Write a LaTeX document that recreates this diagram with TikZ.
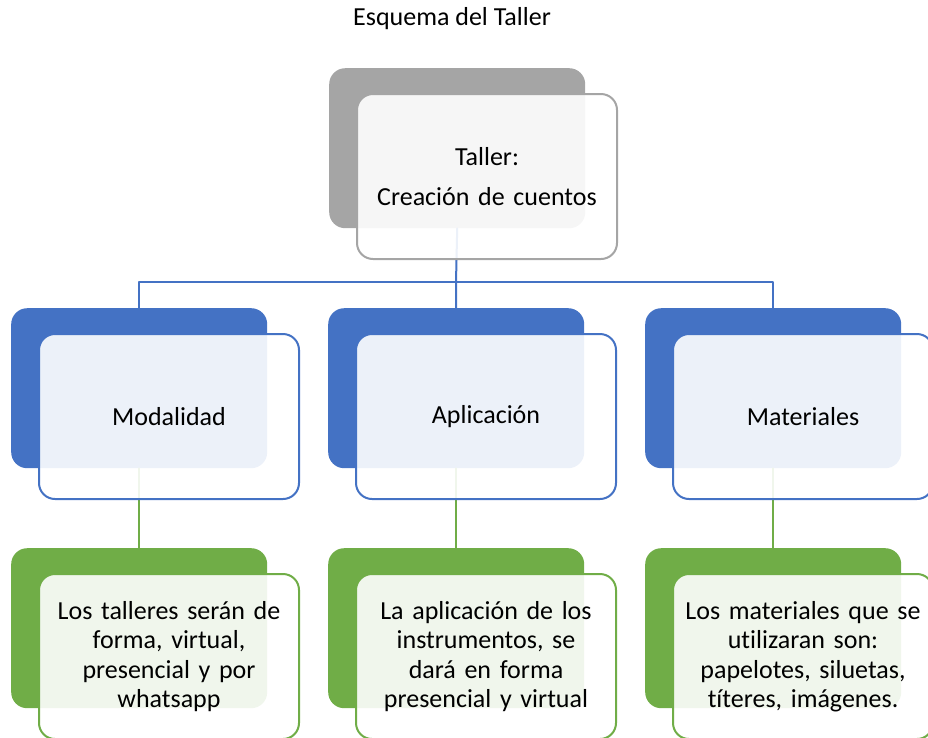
\documentclass[tikz,border=0pt]{standalone}
\usepackage{fontspec}
\setmainfont{Carlito}[Ligatures=NoCommon]
\definecolor{tgray}{HTML}{A5A5A5}
\definecolor{tblue}{HTML}{4472C4}
\definecolor{tgreen}{HTML}{70AD47}
\tikzset{
  backbox/.style={rounded corners=16pt, minimum width=256pt, minimum height=160pt,
    anchor=north west, inner sep=0pt},
  frontbox/.style={rounded corners=16pt, minimum width=260pt, minimum height=165pt,
    anchor=north west, inner sep=4pt, fill=white, fill opacity=0.9, text opacity=1,
    line width=2pt, align=center, text width=252pt},
  link/.style={line width=2pt}
}
\begin{document}
\begin{tikzpicture}[x=1pt,y=-1pt,font=\fontsize{26}{29.5}\selectfont, line cap=round,line join=round]
\useasboundingbox (0,0) rectangle (928,737);
\node (title) at (452,19) {Esquema del Taller};
% back boxes
\node[backbox, fill=tgray] (topb) at (329,68) {};
\node[backbox, fill=tblue] (modb) at (11,308) {};
\node[backbox, fill=tblue] (aplb) at (328,308) {};
\node[backbox, fill=tblue] (matb) at (645,308) {};
\node[backbox, fill=tgreen] (modd) at (11,548) {};
\node[backbox, fill=tgreen] (apld) at (328,548) {};
\node[backbox, fill=tgreen] (matd) at (645,548) {};
% connectors
\coordinate (bus) at (456,282);
\draw[link, tblue] (topb.south) -- (bus);
\draw[link, tblue] (modb.north) |- (bus) -| (matb.north);
\draw[link, tblue] (bus) -- (aplb.north);
\draw[link, tgreen] (modb.south) -- (modd.north);
\draw[link, tgreen] (aplb.south) -- (apld.north);
\draw[link, tgreen] (matb.south) -- (matd.north);
% front boxes
\node[frontbox, draw=tgray] (topf) at (356,93) {Taller:\\[11pt]Creación de cuentos};
\node[frontbox, draw=tblue] (modf) at (38,333) {Modalidad};
\node[frontbox, draw=tblue] (aplf) at (355,333) {Aplicación};
\node[frontbox, draw=tblue] (matf) at (672,333) {Materiales};
\node[frontbox, draw=tgreen] (modt) at (38,573)
  {Los talleres serán de\\forma, virtual,\\presencial y por\\whatsapp};
\node[frontbox, draw=tgreen] (aplt) at (355,573)
  {La aplicación de los\\instrumentos, se\\dará en forma\\presencial y virtual};
\node[frontbox, draw=tgreen] (matt) at (672,573)
  {Los materiales que se\\utilizaran son:\\papelotes, siluetas,\\títeres, imágenes.};
\end{tikzpicture}
\end{document}
